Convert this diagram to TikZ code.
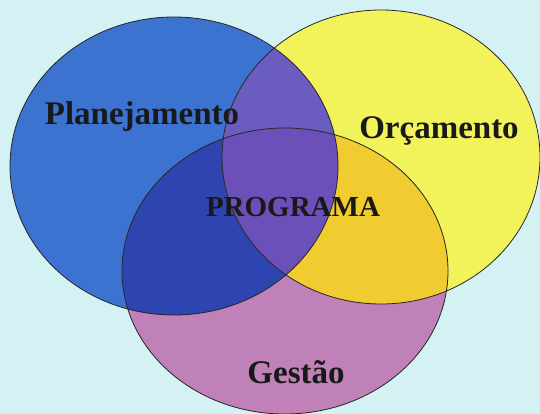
\documentclass[tikz,border=0pt]{standalone}
\usepackage{fontspec}
\setmainfont{Liberation Serif}
\definecolor{bgc}{HTML}{D4F1F4}
\definecolor{cblue}{HTML}{3C72D0}
\definecolor{cyellow}{HTML}{F2F25A}
\definecolor{cpink}{HTML}{C080B8}
\definecolor{cby}{HTML}{6B5CC0}
\definecolor{cbp}{HTML}{2E44B0}
\definecolor{cyp}{HTML}{F0CC30}
\definecolor{cbyp}{HTML}{6A50B8}
\tikzset{
  lbl/.style={font=\bfseries\fontsize{33}{36}\selectfont, text=black!90, inner sep=0pt},
  outline/.style={draw=black!85, line width=0.8pt}
}
\newcommand{\blueE}{(174,166) ellipse [x radius=164, y radius=149]}
\newcommand{\yellowE}{(381,157) ellipse [x radius=159, y radius=147]}
\newcommand{\pinkE}{(285,271) ellipse [x radius=163, y radius=143]}
\begin{document}
\begin{tikzpicture}[x=1pt,y=-1pt]
\useasboundingbox (0,0) rectangle (540,414);
\fill[bgc] (0,0) rectangle (540,414);
\fill[cblue] \blueE;
\fill[cyellow] \yellowE;
\fill[cpink] \pinkE;
\begin{scope}
  \clip \blueE;
  \fill[cby] \yellowE;
  \fill[cbp] \pinkE;
\end{scope}
\begin{scope}
  \clip \yellowE;
  \fill[cyp] \pinkE;
\end{scope}
\begin{scope}
  \clip \blueE;
  \clip \yellowE;
  \fill[cbyp] \pinkE;
\end{scope}
\draw[outline] \blueE;
\draw[outline] \yellowE;
\draw[outline] \pinkE;
\node[lbl] (plan) at (142,117) {Planejamento};
\node[lbl] (orc) at (439,131) {Orçamento};
\node[lbl, font=\bfseries\fontsize{29}{32}\selectfont] (prog) at (293,207) {PROGRAMA};
\node[lbl] (gest) at (296,372) {Gestão};
\end{tikzpicture}
\end{document}
